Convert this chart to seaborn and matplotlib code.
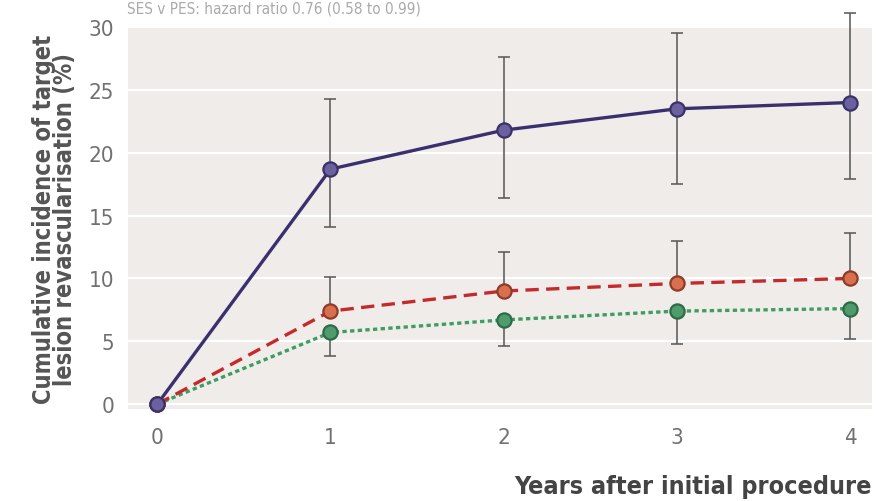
import matplotlib
matplotlib.use("Agg")
import matplotlib.pyplot as plt
import seaborn as sns
import pandas as pd

years = [0, 1, 2, 3, 4]
bms = [0, 18.7, 21.8, 23.5, 24.0]
bms_lo = [0, 14.1, 16.4, 17.5, 17.9]
bms_hi = [0, 24.3, 27.6, 29.5, 31.1]
pes = [0, 7.4, 9.0, 9.6, 10.0]
pes_hi = [0, 10.1, 12.1, 13.0, 13.6]
ses = [0, 5.7, 6.7, 7.4, 7.6]
ses_lo = [0, 3.8, 4.6, 4.8, 5.2]
series_names = ["BMS", "PES", "SES"]
yticks = [0, 5, 10, 15, 20, 25, 30]
xticks = [0, 1, 2, 3, 4]

sns.set_theme(style="whitegrid", rc={
    "axes.facecolor": "#efecea",
    "grid.color": "white",
    "grid.linewidth": 1.6,
    "axes.edgecolor": "#efecea",
})
plt.rcParams["font.family"] = ["DejaVu Sans"]
plt.rcParams["font.stretch"] = "condensed"

df = pd.DataFrame({
    "year": years * 3,
    "value": bms + pes + ses,
    "group": [series_names[0]] * 5 + [series_names[1]] * 5 + [series_names[2]] * 5,
})

line_colors = {"BMS": "#3b306e", "PES": "#c42a2c", "SES": "#3f9c62"}
face_colors = {"BMS": "#6b61a0", "PES": "#d8704e", "SES": "#4e9c6c"}
edge_colors = {"BMS": "#3a3266", "PES": "#8e3b2a", "SES": "#2f6a47"}

fig = plt.figure(figsize=(8.76, 5.02), dpi=100)
ax = fig.add_axes([0.146, 0.183, 0.85, 0.761])

# error bars (visible parts): BMS both sides, PES upper, SES lower
ebar_kw = dict(fmt="none", ecolor="#555555", elinewidth=1.1, capsize=4.5,
               capthick=1.1, zorder=2, clip_on=False)
ax.errorbar(years[1:], bms[1:],
            yerr=[[bms[i] - bms_lo[i] for i in range(1, 5)],
                  [bms_hi[i] - bms[i] for i in range(1, 5)]], **ebar_kw)
ax.errorbar(years[1:], pes[1:],
            yerr=[[0] * 4, [pes_hi[i] - pes[i] for i in range(1, 5)]], **ebar_kw)
ax.errorbar(years[1:], ses[1:],
            yerr=[[ses[i] - ses_lo[i] for i in range(1, 5)], [0] * 4], **ebar_kw)

for g in ["SES", "PES", "BMS"]:
    sub = df[df["group"] == g]
    sns.lineplot(data=sub, x="year", y="value", ax=ax, color=line_colors[g],
                 linewidth=2.4, legend=False, zorder=3)
    ln = ax.lines[-1]
    if g == "PES":
        ln.set_dashes((4, 2.2))
    elif g == "SES":
        ln.set_dashes((1.3, 1.0))
    sns.scatterplot(data=sub, x="year", y="value", ax=ax, s=105,
                    color=face_colors[g], edgecolor=edge_colors[g],
                    linewidth=1.6, legend=False, zorder=4, clip_on=False)

ax.set_xlim(-0.17, 4.13)
ax.set_ylim(-0.4, 30)
ax.set_xticks(xticks)
ax.set_yticks(yticks)
ax.grid(axis="x", visible=False)
ax.tick_params(axis="both", length=0, labelsize=16, labelcolor="#707070")
ax.tick_params(axis="x", pad=13)
ax.tick_params(axis="y", pad=10)
for s in ax.spines.values():
    s.set_visible(False)
ax.set_xlabel("")
ax.set_ylabel("Cumulative incidence of target\nlesion revascularisation (%)",
              fontsize=17, fontweight="bold", color="#555555", linespacing=0.85,
              labelpad=8)
fig.text(0.995, 0.03, "Years after initial procedure", ha="right", va="center",
         fontsize=18, fontweight="bold", color="#444444")
fig.text(0.145, 0.998, "SES v PES: hazard ratio 0.76 (0.58 to 0.99)", ha="left",
         va="top", fontsize=11, color="#aaaaaa")

fig.savefig("out.png", dpi=100)
